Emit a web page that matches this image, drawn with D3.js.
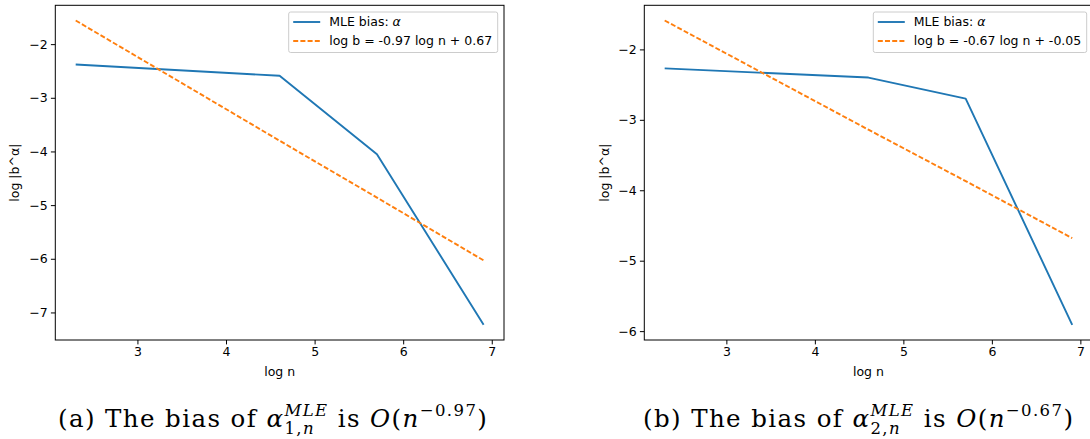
<!DOCTYPE html>
<html>
<head>
<meta charset="utf-8">
<script src="https://cdn.jsdelivr.net/npm/d3@7"></script>
<style>
  body { margin: 0; background: #fff; }
  svg { display: block; }
  .tick text { font-family: "DejaVu Sans", sans-serif; font-size: 12.5px; fill: #000; }
</style>
</head>
<body>
<div id="chart"></div>
<script>
// log n for n = 10, 100, 300, 1000
const logN = [2.303, 4.605, 5.704, 6.908];

// estimated log |bias| of alpha
const biasA = [-2.38, -2.59, -4.05, -7.23];
const biasB = [-2.27, -2.40, -2.70, -5.91];

// fitted lines at the same log n points
const fitA = [-1.56, -3.80, -4.86, -6.03];
const fitB = [-1.59, -3.14, -3.87, -4.68];

const fitLabels = ["log b = -0.97 log n + 0.67", "log b = -0.67 log n + -0.05"];
const xTicks = [3, 4, 5, 6, 7];
const yTicksA = [-2, -3, -4, -5, -6, -7];
const yTicksB = [-2, -3, -4, -5, -6];
const captionTags = ["(a)", "(b)"];
const captionIdx = ["1", "2"];
const captionExp = ["\u22120.97", "\u22120.67"];

const width = 1090, height = 439;
const blue = "#1f77b4", orange = "#ff7f0e";
const capFont = "DejaVu Serif, serif";

const svg = d3.select("#chart").append("svg")
    .attr("width", width)
    .attr("height", height);

// matplotlib-like 5% margin round the data
function padded(vals) {
    const [lo, hi] = d3.extent(vals);
    const m = (hi - lo) * 0.05;
    return [lo - m, hi + m];
}

// one text element; the sub/superscript pair is stacked with dx
function drawCaption(x0, baseline, target, tag, idx, exp) {
    const big = 24.5, small = 16.5;
    const g = svg.append("g");

    function render(ls) {
        g.selectAll("*").remove();
        const t = g.append("text").attr("x", x0).attr("y", baseline)
            .style("font-family", capFont).style("font-size", big + "px")
            .style("letter-spacing", ls + "px")
            .attr("xml:space", "preserve");
        const span = (txt, o) => {
            o = o || {};
            const s = t.append("tspan").text(txt);
            if (o.i) s.style("font-style", "italic");
            if (o.s) s.style("font-size", o.s + "px");
            if (o.dx) s.attr("dx", o.dx);
            if (o.dy) s.attr("dy", o.dy);
            return s;
        };
        span(tag + " The bias of ");
        span("\u03b1", { i: true });
        const sup = span("MLE", { i: true, s: small, dy: -11 });
        const l1 = sup.node().getComputedTextLength();
        const s1 = span(idx + ",", { s: small, dx: -l1, dy: 18 });
        const s2 = span("n", { i: true, s: small });
        const l2 = s1.node().getComputedTextLength() + s2.node().getComputedTextLength();
        span(" is ", { dx: Math.max(0, l1 - l2), dy: -7 });
        span("O", { i: true });
        span("(");
        span("n", { i: true });
        span(exp, { s: small, dy: -11 });
        span(")", { dy: 11 });
        return t.node().getComputedTextLength() - l1;
    }

    const w = render(0);
    const chars = (tag + " The bias of \u03b1 is O(n" + exp + ")").length + 3;
    render(Math.max(-0.5, Math.min(1.4, (target - w) / chars)));
}

function drawPanel(p) {
    const x = d3.scaleLinear().domain(padded(logN)).range([p.left, p.right]);
    const y = d3.scaleLinear().domain(padded(p.bias.concat(p.fit))).range([p.bottom, p.top]);

    const g = svg.append("g");

    // axes
    g.append("g")
        .attr("transform", `translate(0,${p.bottom})`)
        .call(d3.axisBottom(x).tickValues(xTicks).tickSize(4.4).tickPadding(3.2).tickFormat(d3.format("d")))
        .call(a => a.select(".domain").remove())
        .call(a => a.selectAll("line").attr("stroke", "#000").attr("stroke-width", 1));

    g.append("g")
        .attr("transform", `translate(${p.left},0)`)
        .call(d3.axisLeft(y).tickValues(p.yTicks).tickSize(4.4).tickPadding(3.2).tickFormat(d3.format("d")))
        .call(a => a.select(".domain").remove())
        .call(a => a.selectAll("line").attr("stroke", "#000").attr("stroke-width", 1));

    // lines
    const line = d3.line().x((d, i) => x(logN[i])).y(d => y(d));
    g.append("path")
        .attr("d", line(p.bias))
        .attr("fill", "none")
        .attr("stroke", blue)
        .attr("stroke-width", 1.9)
        .attr("stroke-linejoin", "round");
    g.append("path")
        .attr("d", line(p.fit))
        .attr("fill", "none")
        .attr("stroke", orange)
        .attr("stroke-width", 1.9)
        .attr("stroke-dasharray", "5,2.2");

    // frame
    g.append("rect")
        .attr("x", p.left).attr("y", p.top)
        .attr("width", p.right - p.left).attr("height", p.bottom - p.top)
        .attr("fill", "none").attr("stroke", "#000").attr("stroke-width", 1);

    // axis labels
    g.append("text")
        .attr("x", (p.left + p.right) / 2).attr("y", 376)
        .attr("text-anchor", "middle")
        .style("font-family", "DejaVu Sans").style("font-size", "12.5px")
        .text("log n");
    g.append("text")
        .attr("transform", `translate(${p.ylabX},${(p.top + p.bottom) / 2}) rotate(-90)`)
        .attr("text-anchor", "middle")
        .attr("dy", "0.35em")
        .style("font-family", "DejaVu Sans").style("font-size", "12.5px")
        .text("log |b^\u03b1|");

    // legend
    const lg = g.append("g").attr("transform", `translate(${p.legX},12)`);
    lg.append("rect")
        .attr("width", p.legW).attr("height", 40.5)
        .attr("rx", 2)
        .attr("fill", "#fff").attr("fill-opacity", 0.8)
        .attr("stroke", "#ccc").attr("stroke-width", 1);
    lg.append("line").attr("x1", 4.5).attr("x2", 31.5).attr("y1", 10).attr("y2", 10)
        .attr("stroke", blue).attr("stroke-width", 1.9);
    lg.append("line").attr("x1", 4.5).attr("x2", 31.5).attr("y1", 29).attr("y2", 29)
        .attr("stroke", orange).attr("stroke-width", 1.9).attr("stroke-dasharray", "5,2.2");
    const t1 = lg.append("text").attr("x", 40.5).attr("y", 10).attr("dy", "0.35em")
        .style("font-family", "DejaVu Sans").style("font-size", "12.5px");
    t1.append("tspan").text("MLE bias: ");
    t1.append("tspan").style("font-style", "italic").text("\u03b1");
    lg.append("text").attr("x", 40.5).attr("y", 29).attr("dy", "0.35em")
        .style("font-family", "DejaVu Sans").style("font-size", "12.5px")
        .text(p.fitLabel);

    drawCaption(p.capX, 427, p.capW, p.tag, p.idx, p.exp);
}

drawPanel({
    left: 55.3, right: 504, top: 5.3, bottom: 340,
    bias: biasA, fit: fitA, yTicks: yTicksA, fitLabel: fitLabels[0],
    ylabX: 15, legX: 288.7, legW: 209,
    tag: captionTags[0], idx: captionIdx[0], exp: captionExp[0], capX: 58, capW: 425
});
drawPanel({
    left: 644.3, right: 1092.6, top: 5.3, bottom: 340,
    bias: biasB, fit: fitB, yTicks: yTicksB, fitLabel: fitLabels[1],
    ylabX: 605, legX: 873.3, legW: 213.4,
    tag: captionTags[1], idx: captionIdx[1], exp: captionExp[1], capX: 643, capW: 432
});
</script>
</body>
</html>
